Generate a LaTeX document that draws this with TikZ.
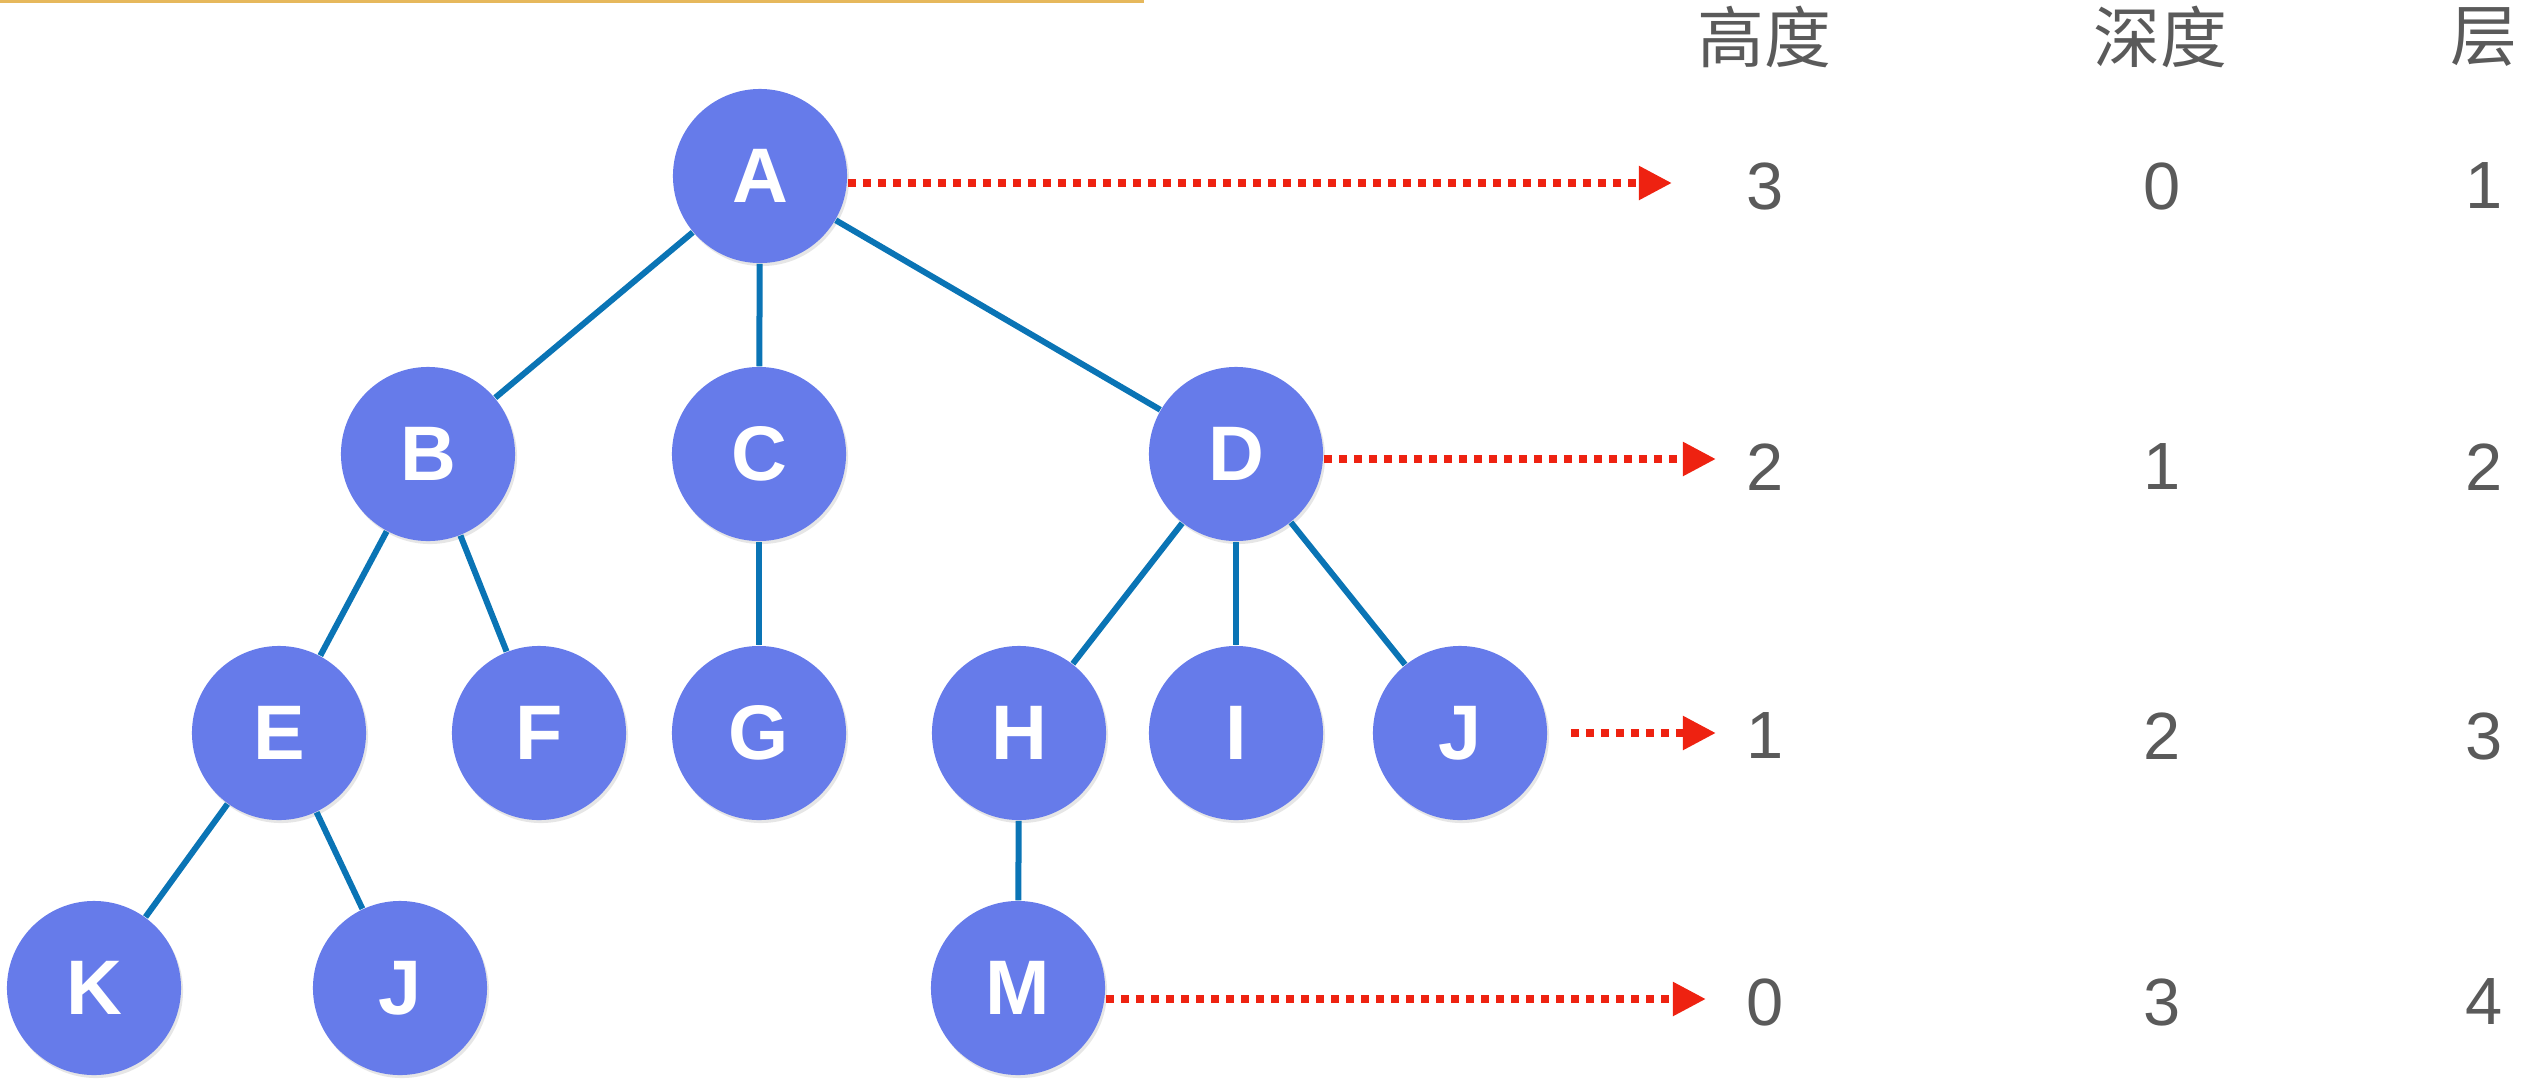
\documentclass[tikz,border=0pt]{standalone}
\usepackage{fontspec}
\setmainfont{Liberation Sans}
\newfontfamily\cjkfont{Noto Sans CJK SC}
\definecolor{NodeBlue}{HTML}{667BEA}
\definecolor{EdgeBlue}{HTML}{0A74B5}
\definecolor{ArrowRed}{HTML}{EE2211}
\definecolor{NumGray}{HTML}{5A5A5A}
\definecolor{TopGold}{HTML}{E6B85C}
\usepackage{tikz}
\usetikzlibrary{positioning, arrows.meta, shadows}
\usepackage{xcolor}

\tikzset{
  treenode/.style={circle, fill=NodeBlue, minimum size=1.74cm, inner sep=0pt,
    text=white, font=\bfseries\fontsize{22}{22}\selectfont,
    drop shadow={opacity=0.2, shadow xshift=0.02cm, shadow yshift=-0.03cm}},
  link/.style={draw=EdgeBlue, line width=0.06cm},
  levelarrow/.style={draw=ArrowRed, line width=0.08cm,
    dash pattern=on 0.08cm off 0.07cm,
    -{Triangle[length=0.33cm, width=0.32cm]}},
  colhead/.style={text=NumGray, font=\cjkfont\fontsize{19}{19}\selectfont},
  colnum/.style={text=NumGray, font=\fontsize{19}{19}\selectfont}
}

\begin{document}
\begin{tikzpicture}[x=0.01cm, y=-0.01cm]
  \useasboundingbox (0,0) rectangle (2544,1078);
  \fill[TopGold] (0,0) rectangle (1144,3);

  % tree
  \node[treenode] (A) at (760,176) {A};
  \node[treenode] (B) at (428,454) {B};
  \node[treenode] (C) at (759,454) {C};
  \node[treenode] (D) at (1236,454) {D};
  \node[treenode] (E) at (279,733) {E};
  \node[treenode] (F) at (539,733) {F};
  \node[treenode] (G) at (759,733) {G};
  \node[treenode] (H) at (1019,733) {H};
  \node[treenode] (I) at (1236,733) {I};
  \node[treenode] (J) at (1460,733) {J};
  \node[treenode] (K) at (94,988) {K};
  \node[treenode] (J2) at (400,988) {J};
  \node[treenode] (M) at (1018,988) {M};

  \foreach \from/\to in {A/B, A/C, A/D, B/E, B/F, C/G, D/H, D/I, D/J, E/K, E/J2, H/M}
    \draw[link] (\from) -- (\to);

  % table on the right
  \node[colhead] (headH) at (1764,37) {高度};
  \node[colhead] (headD) at (2160,37) {深度};
  \node[colhead] (headL) at (2484,37) {层};

  \foreach \y/\h/\d/\l [count=\i] in {186/3/0/1, 467/2/1/2, 736/1/2/3, 1002/0/3/4} {
    \node[colnum] (h\i) at (1765,\y) {\h};
    \node[colnum] (d\i) at (2162,\y) {\d};
    \node[colnum] (l\i) at (2484,\y) {\l};
  }

  % arrows
  \coordinate (tipA) at (1672,183);
  \coordinate (tipD) at (1716,459);
  \coordinate (tipJ) at (1716,733);
  \coordinate (tipM) at (1706,999);
  \draw[levelarrow] (A.east |- tipA) -- (tipA);
  \draw[levelarrow] (D.east |- tipD) -- (tipD);
  \draw[levelarrow, shorten <=0.23cm] (J.east) -- (tipJ);
  \draw[levelarrow] (M.east |- tipM) -- (tipM);
\end{tikzpicture}
\end{document}
